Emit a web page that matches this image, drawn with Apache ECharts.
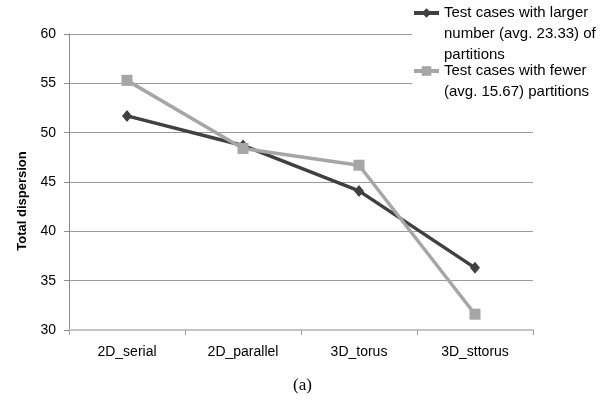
<!DOCTYPE html>
<html>
<head>
<meta charset="utf-8">
<script src="https://cdn.jsdelivr.net/npm/echarts@6/dist/echarts.min.js"></script>
<style>html,body{margin:0;padding:0;background:#fff;}#c{width:605px;height:405px;}</style>
</head>
<body>
<div id="c"></div>
<script>
const categories = ['2D_serial', '2D_parallel', '3D_torus', '3D_sttorus'];
const seriesLarger = [51.7, 48.7, 44.1, 36.3];
const seriesFewer = [55.3, 48.4, 46.7, 31.6];
const nameLarger = 'Test cases with larger\nnumber (avg. 23.33) of\npartitions';
const nameFewer = 'Test cases with fewer\n(avg. 15.67) partitions';
const yTicks = [30, 35, 40, 45, 50, 55, 60];

const FONT = '"Liberation Sans", Arial, sans-serif';
const DARK = '#404040';
const LIGHT = '#a6a6a6';
const LH = 21;

// pad the text with leading blank lines so that the legend icon sits beside the first line
function topAlign(name) {
  const n = name.split('\n').length - 1;
  return '\n'.repeat(n) + name;
}

const legendBase = {
  left: 412, padding: 0, itemWidth: 25, itemHeight: 12, itemGap: 0,
  selectedMode: false, backgroundColor: '#fff',
  lineStyle: {width: 4},
  textStyle: {fontFamily: FONT, fontSize: 15, color: '#000', lineHeight: LH},
  formatter: topAlign
};

const chart = echarts.init(document.getElementById('c'), null, {renderer: 'canvas'});
chart.setOption({
  animation: false,
  backgroundColor: '#fff',
  grid: {left: 69, right: 72, top: 34, bottom: 75},
  title: {
    text: '(a)', left: 'center', top: 372,
    textStyle: {fontFamily: '"Liberation Serif", "Times New Roman", serif', fontSize: 17, fontWeight: 'normal', color: '#000'}
  },
  legend: [
    Object.assign({}, legendBase, {data: [nameLarger], top: -39.5}),
    Object.assign({}, legendBase, {data: [nameFewer], top: 39.5})
  ],
  graphic: [{
    type: 'text', x: 22, y: 201, rotation: Math.PI / 2,
    style: {text: 'Total dispersion', font: 'bold 13px ' + FONT, fill: '#000', align: 'center', verticalAlign: 'middle'}
  }],
  xAxis: {
    type: 'category', data: categories, boundaryGap: true,
    axisLine: {lineStyle: {color: '#c4c4c4', width: 2}},
    axisTick: {show: true, length: 5, lineStyle: {color: '#a0a0a0'}},
    axisLabel: {margin: 15, fontFamily: FONT, fontSize: 14, color: '#000'},
    splitLine: {show: false}
  },
  yAxis: {
    type: 'value', min: 30, max: 60, interval: 5,
    axisLine: {show: true, lineStyle: {color: '#8c8c8c', width: 1}},
    axisTick: {show: true, inside: false, length: 5, lineStyle: {color: '#8c8c8c'}},
    axisLabel: {margin: 13, fontFamily: FONT, fontSize: 14, color: '#000',
      formatter: v => yTicks.includes(v) ? String(v) : ''},
    splitLine: {show: true, lineStyle: {color: '#9a9a9a', width: 1}}
  },
  series: [{
    name: nameLarger, type: 'line', data: seriesLarger,
    symbol: 'diamond', symbolSize: [10, 12],
    lineStyle: {color: DARK, width: 3.5},
    itemStyle: {color: DARK},
    z: 3
  }, {
    name: nameFewer, type: 'line', data: seriesFewer,
    symbol: 'rect', symbolSize: 11,
    lineStyle: {color: LIGHT, width: 3.5},
    itemStyle: {color: LIGHT},
    z: 4
  }]
});
</script>
</body>
</html>
